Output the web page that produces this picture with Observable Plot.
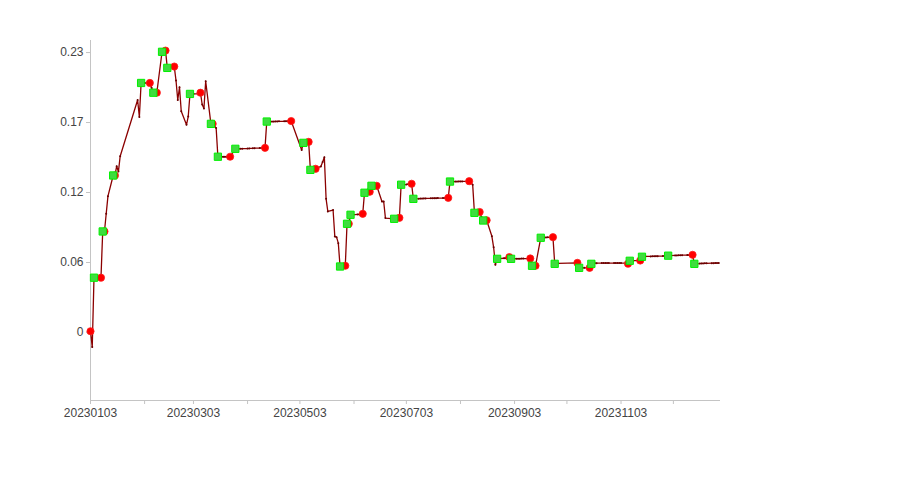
<!DOCTYPE html>
<html>
<head>
<meta charset="utf-8">
<script src="https://cdn.jsdelivr.net/npm/d3@7"></script>
<script src="https://cdn.jsdelivr.net/npm/@observablehq/plot@0.6"></script>
<style>
  html, body { margin: 0; padding: 0; background: #ffffff; }
  #chart svg { display: block; }
</style>
</head>
<body>
<div id="chart"></div>
<script>
// ---- data ----
const dates = [
  "2023-01-03","2023-01-04","2023-01-05","2023-01-06","2023-01-09","2023-01-10","2023-01-11","2023-01-12","2023-01-13",
  "2023-01-16","2023-01-17","2023-01-18","2023-01-19","2023-01-20","2023-01-30","2023-01-31",
  "2023-02-01","2023-02-02","2023-02-03","2023-02-06","2023-02-07","2023-02-08","2023-02-09","2023-02-10",
  "2023-02-13","2023-02-14","2023-02-15","2023-02-16","2023-02-17","2023-02-20","2023-02-21","2023-02-22",
  "2023-02-23","2023-02-24","2023-02-27","2023-02-28",
  "2023-03-01","2023-03-02","2023-03-03","2023-03-06","2023-03-07","2023-03-08","2023-03-09","2023-03-10",
  "2023-03-13","2023-03-14","2023-03-15","2023-03-16","2023-03-17","2023-03-20","2023-03-21","2023-03-22",
  "2023-03-23","2023-03-24","2023-03-27","2023-03-28","2023-03-29","2023-03-30","2023-03-31",
  "2023-04-03","2023-04-04","2023-04-06","2023-04-07","2023-04-10","2023-04-11","2023-04-12","2023-04-13",
  "2023-04-14","2023-04-17","2023-04-18","2023-04-19","2023-04-20","2023-04-21","2023-04-24","2023-04-25",
  "2023-04-26","2023-04-27","2023-04-28",
  "2023-05-04","2023-05-05","2023-05-08","2023-05-09","2023-05-10","2023-05-11","2023-05-12","2023-05-15",
  "2023-05-16","2023-05-17","2023-05-18","2023-05-19","2023-05-22","2023-05-23","2023-05-24","2023-05-25",
  "2023-05-26","2023-05-29","2023-05-30","2023-05-31",
  "2023-06-01","2023-06-02","2023-06-05","2023-06-06","2023-06-07","2023-06-08","2023-06-09","2023-06-12",
  "2023-06-13","2023-06-14","2023-06-15","2023-06-16","2023-06-19","2023-06-20","2023-06-21","2023-06-26",
  "2023-06-27","2023-06-28","2023-06-29","2023-06-30",
  "2023-07-03","2023-07-04","2023-07-05","2023-07-06","2023-07-07","2023-07-10","2023-07-11","2023-07-12",
  "2023-07-13","2023-07-14","2023-07-17","2023-07-18","2023-07-19","2023-07-20","2023-07-21","2023-07-24",
  "2023-07-25","2023-07-26","2023-07-27","2023-07-28","2023-07-31",
  "2023-08-01","2023-08-02","2023-08-03","2023-08-04","2023-08-07","2023-08-08","2023-08-09","2023-08-10",
  "2023-08-11","2023-08-14","2023-08-15","2023-08-16","2023-08-17","2023-08-18","2023-08-21","2023-08-22",
  "2023-08-23","2023-08-24","2023-08-25","2023-08-28","2023-08-29","2023-08-30","2023-08-31",
  "2023-09-01","2023-09-04","2023-09-05","2023-09-06","2023-09-07","2023-09-08","2023-09-11","2023-09-12",
  "2023-09-13","2023-09-14","2023-09-15","2023-09-18","2023-09-19","2023-09-20","2023-09-21","2023-09-22",
  "2023-09-25","2023-09-26","2023-09-27","2023-09-28",
  "2023-10-09","2023-10-10","2023-10-11","2023-10-12","2023-10-13","2023-10-16","2023-10-17","2023-10-18",
  "2023-10-19","2023-10-20","2023-10-23","2023-10-24","2023-10-25","2023-10-26","2023-10-27","2023-10-30",
  "2023-10-31",
  "2023-11-01","2023-11-02","2023-11-03","2023-11-06","2023-11-07","2023-11-08","2023-11-09","2023-11-10",
  "2023-11-13","2023-11-14","2023-11-15","2023-11-16","2023-11-17","2023-11-20","2023-11-21","2023-11-22",
  "2023-11-23","2023-11-24","2023-11-27","2023-11-28","2023-11-29","2023-11-30",
  "2023-12-01","2023-12-04","2023-12-05","2023-12-06","2023-12-07","2023-12-08","2023-12-11","2023-12-12",
  "2023-12-13","2023-12-14","2023-12-15","2023-12-18","2023-12-19","2023-12-20","2023-12-21","2023-12-22",
  "2023-12-25","2023-12-26","2023-12-27","2023-12-28","2023-12-29"
];
const values = [
  0.001,-0.012,0.045,0.045,0.045,0.083,0.083,0.0975,0.112,
  0.129,0.129,0.1366,0.1322,0.1448,0.191,0.177,
  0.205,0.205,0.205,0.205,0.201,0.197,0.197,0.197,
  0.2306,0.2312,0.2316,0.2174,0.218,0.2185,0.207,0.191,
  0.2015,0.1818,0.1706,0.1774,
  0.196,0.196,0.196,0.196,0.197,0.1873,0.184,0.2064,
  0.1714,0.1714,0.170,0.168,0.1444,0.1444,0.1444,0.1444,
  0.1444,0.1444,0.1509,0.1509,0.1509,0.1510,0.1510,
  0.1511,0.1512,0.1513,0.1514,0.1515,0.1516,0.1516,0.1517,
  0.1733,0.1733,0.1733,0.1734,0.1734,0.1735,0.1735,0.1736,
  0.1736,0.1737,0.1737,
  0.150,0.1558,0.1566,0.1336,0.1336,0.1340,0.1345,0.1364,
  0.140,0.144,0.1098,0.0994,0.1006,0.0789,0.0783,0.0734,
  0.0542,0.0548,0.0893,0.0893,
  0.0967,0.0967,0.0970,0.0970,0.0972,0.0975,0.1148,0.1156,
  0.1205,0.1205,0.1205,0.1205,0.1076,0.1076,0.094,0.0934,
  0.0936,0.0938,0.0942,0.1214,
  0.1216,0.1218,0.1220,0.1222,0.1098,0.1099,0.1100,0.1100,
  0.1101,0.1101,0.1102,0.1102,0.1103,0.1103,0.1104,0.1104,
  0.1105,0.1105,0.1106,0.124,0.124,
  0.124,0.1241,0.1241,0.1241,0.1242,0.1243,0.1233,0.1213,
  0.0983,0.099,0.095,0.092,0.092,0.0922,0.079,0.070,
  0.0556,0.0605,0.0607,0.0610,0.0610,0.0612,0.0619,
  0.0605,0.0606,0.0606,0.0606,0.0607,0.0607,0.0607,0.0608,
  0.0548,0.0548,0.0548,0.0778,0.0780,0.0780,0.0781,0.0782,
  0.0783,0.0564,0.0566,0.0568,
  0.0572,0.0531,0.0531,0.0531,0.0531,0.0531,0.0564,0.0568,
  0.0569,0.0569,0.0570,0.0570,0.0570,0.0570,0.0570,0.0570,
  0.0570,
  0.0570,0.0570,0.0570,0.0570,0.0569,0.0589,0.0590,0.0590,
  0.0590,0.0591,0.0622,0.0624,0.0625,0.0625,0.0626,0.0626,
  0.0627,0.0627,0.0628,0.0629,0.0630,0.0631,
  0.0632,0.0633,0.0633,0.0634,0.0634,0.0635,0.0636,0.0636,
  0.0637,0.0638,0.0564,0.0566,0.0567,0.0567,0.0568,0.0568,
  0.0569,0.0569,0.0570,0.0570,0.0570
];

const buyDates = [
  "2023-01-05","2023-01-10","2023-01-16","2023-02-01","2023-02-08","2023-02-13","2023-02-16","2023-03-01",
  "2023-03-13","2023-03-17","2023-03-27","2023-04-14","2023-05-05","2023-05-09","2023-05-26","2023-05-30",
  "2023-06-01","2023-06-09","2023-06-13","2023-06-26","2023-06-30","2023-07-07","2023-07-28","2023-08-11",
  "2023-08-16","2023-08-24","2023-09-01","2023-09-13","2023-09-18","2023-09-26","2023-10-10","2023-10-17",
  "2023-11-08","2023-11-15","2023-11-30","2023-12-15"
];
const buyValues = [
  0.045,0.083,0.129,0.205,0.197,0.2306,0.2174,0.196,
  0.1714,0.1444,0.1509,0.1733,0.1558,0.1336,0.0542,0.0893,
  0.0967,0.1148,0.1205,0.0934,0.1214,0.1098,0.124,0.0983,
  0.092,0.0605,0.0605,0.0548,0.0778,0.0564,0.0531,0.0564,
  0.0589,0.0622,0.0631,0.0564
];
const sellDates = [
  "2023-01-03","2023-01-09","2023-01-11","2023-01-17","2023-02-06","2023-02-10","2023-02-15","2023-02-20",
  "2023-03-07","2023-03-14","2023-03-24","2023-04-13","2023-04-28","2023-05-08","2023-05-12","2023-05-29",
  "2023-05-31","2023-06-08","2023-06-12","2023-06-16","2023-06-29","2023-07-06","2023-07-27","2023-08-08",
  "2023-08-14","2023-08-18","2023-08-31","2023-09-12","2023-09-15","2023-09-25","2023-10-09","2023-10-16",
  "2023-11-07","2023-11-14","2023-12-14"
];
const sellValues = [
  0.001,0.045,0.083,0.129,0.205,0.197,0.2316,0.2185,
  0.197,0.1714,0.1444,0.1517,0.1737,0.1566,0.1345,0.0548,
  0.0893,0.0975,0.1156,0.1205,0.0942,0.1222,0.1106,0.1243,
  0.099,0.0922,0.0619,0.0608,0.0548,0.0783,0.0572,0.0531,
  0.0565,0.0591,0.0638
];

const yTicks = [0, 0.0575, 0.115, 0.1725, 0.23];
const yTickLabels = ["0", "0.06", "0.12", "0.17", "0.23"];
const xTickDates = [
  "2023-01-03","2023-02-03","2023-03-03","2023-04-03","2023-05-03","2023-06-03",
  "2023-07-03","2023-08-03","2023-09-03","2023-10-03","2023-11-03","2023-12-03"
];
const xTickLabels = ["20230103","","20230303","","20230503","","20230703","","20230903","","20231103",""];

// ---- build ----
const parse = d3.utcParse("%Y-%m-%d");
const series = dates.map((d, i) => ({date: parse(d), value: values[i]}));
const buys = buyDates.map((d, i) => ({date: parse(d), value: buyValues[i]}));
const sells = sellDates.map((d, i) => ({date: parse(d), value: sellValues[i]}));
const xTicks = xTickDates.map(parse);
const xLabelMap = new Map(xTicks.map((d, i) => [+d, xTickLabels[i]]));
const yLabelMap = new Map(yTicks.map((d, i) => [d, yTickLabels[i]]));

const xStart = parse("2023-01-03"), xEnd = parse("2023-12-30");
const yMin = -0.0559, yMax = 0.2399;

const chart = Plot.plot({
  width: 900,
  height: 500,
  marginLeft: 90,
  marginRight: 180,
  marginTop: 40,
  marginBottom: 100,
  x: {type: "utc", domain: [xStart, xEnd]},
  y: {domain: [yMin, yMax]},
  style: {
    fontFamily: "'Liberation Sans', Arial, sans-serif",
    fontSize: "12px",
    color: "#444444",
    background: "#ffffff"
  },
  marks: [
    Plot.ruleX([xStart], {stroke: "#c4c4c4", strokeWidth: 1}),
    Plot.ruleY([yMin], {stroke: "#c4c4c4", strokeWidth: 1}),
    Plot.axisY(yTicks, {
      tickFormat: d => yLabelMap.get(d),
      tickSize: 4, tickPadding: 3,
      stroke: "#c4c4c4", fill: "#444444",
      label: null, fontSize: 12
    }),
    Plot.axisX(xTicks, {
      tickFormat: d => xLabelMap.get(+d),
      tickSize: 4, tickPadding: 4,
      stroke: "#c4c4c4", fill: "#444444",
      label: null, fontSize: 12
    }),
    Plot.line(series, {x: "date", y: "value", stroke: "#8b0000", strokeWidth: 1.3}),
    Plot.dot(series, {x: "date", y: "value", r: 1, fill: "#6a0000"}),
    Plot.dot(sells, {x: "date", y: "value", r: 3.6, fill: "#ff0000", stroke: "#ff1a1a", strokeWidth: 0.8}),
    Plot.dot(buys, {x: "date", y: "value", symbol: "square", r: 4.1, fill: "#3fdc3f", stroke: "#00f000", strokeWidth: 1})
  ]
});

document.getElementById("chart").appendChild(chart);
</script>
</body>
</html>
